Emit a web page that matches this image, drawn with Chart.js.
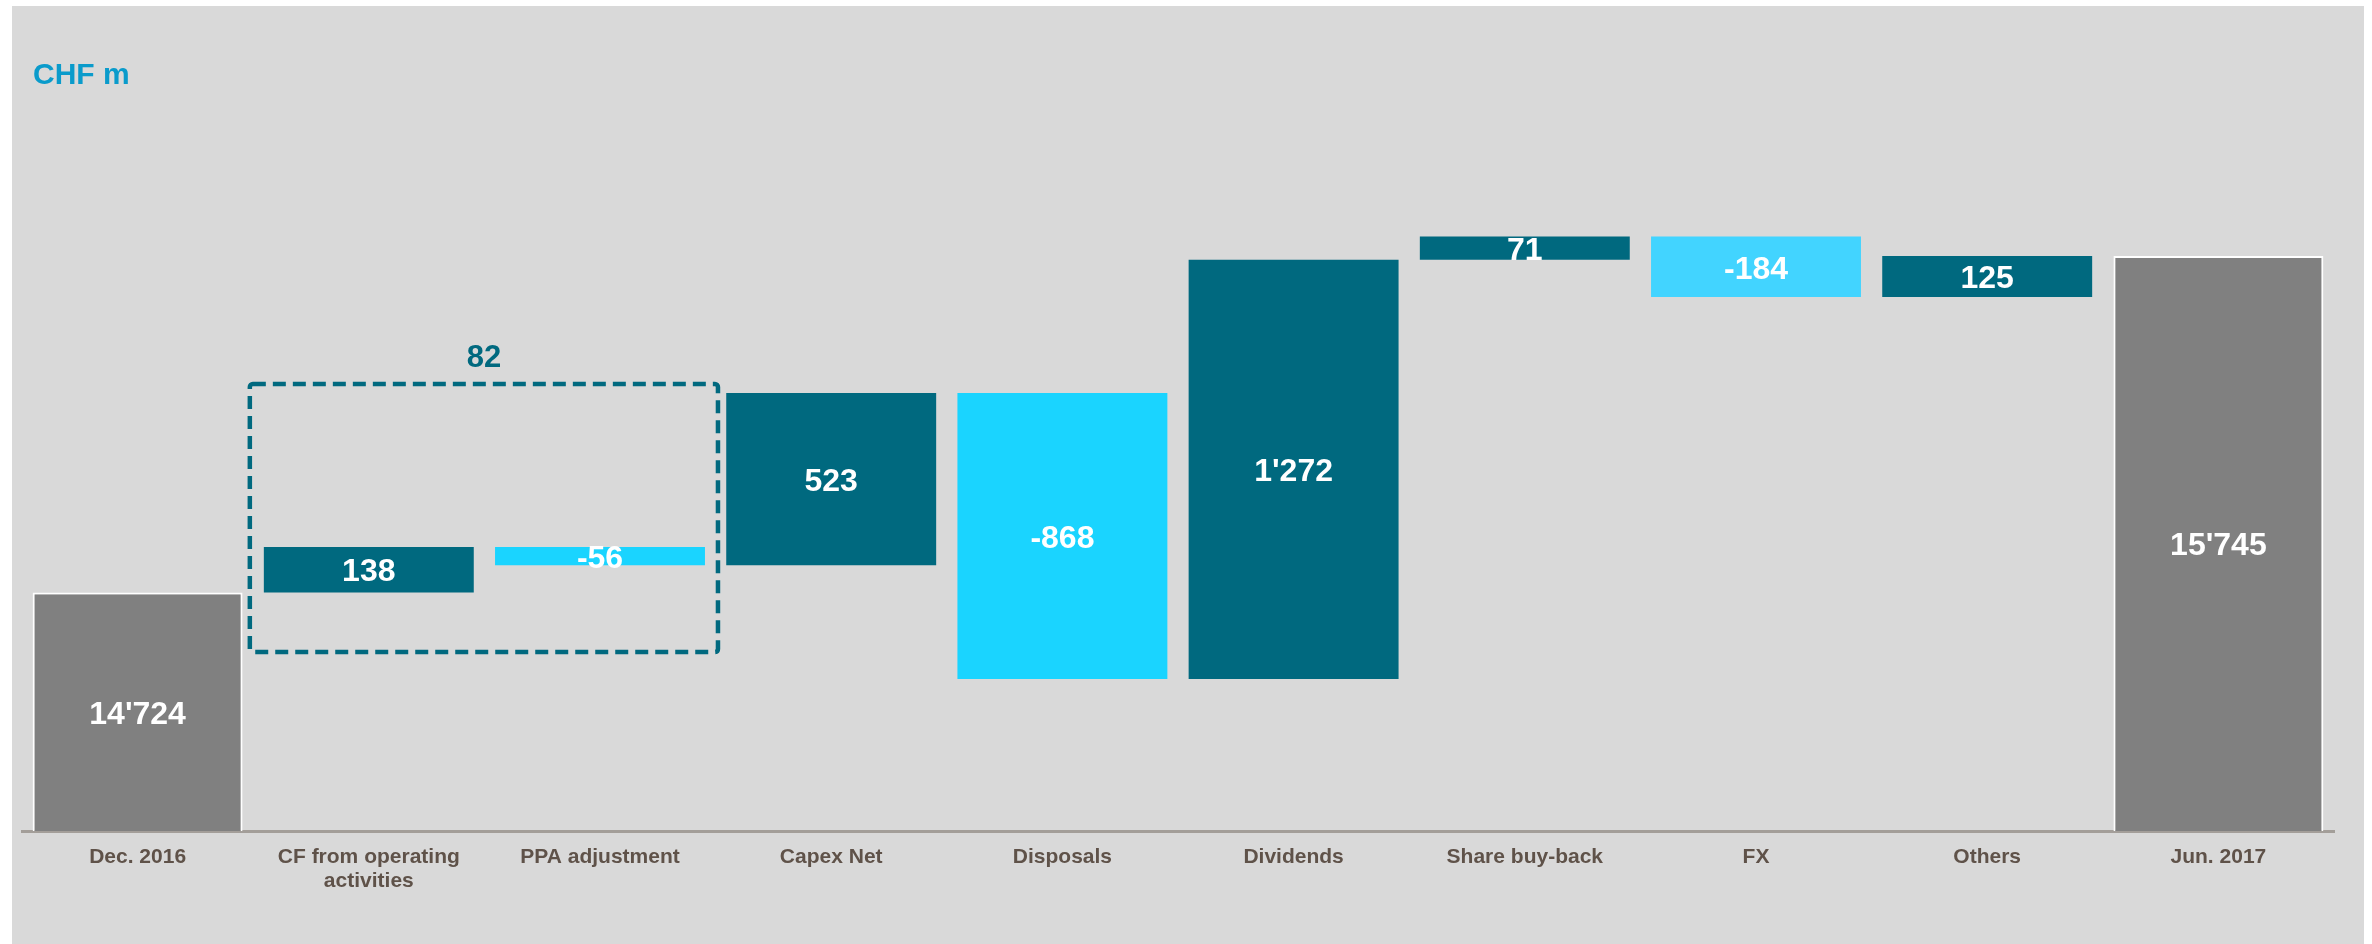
<!DOCTYPE html>
<html>
<head>
<meta charset="utf-8">
<script src="https://cdn.jsdelivr.net/npm/chart.js@4/dist/chart.umd.min.js"></script>
<style>
html,body{margin:0;padding:0;background:#ffffff;overflow:hidden}
canvas{display:block}
</style>
</head>
<body>
<canvas id="c" width="2372" height="944"></canvas>
<script>
// ---- data ----
const categories = ['Dec. 2016', ['CF from operating', 'activities'], 'PPA adjustment', 'Capex Net', 'Disposals', 'Dividends', 'Share buy-back', 'FX', 'Others', 'Jun. 2017'];
const startTotal = 14724;
const changes = [138, -56, 523, -868, 1272, 71, -184, 125];
const endTotal = 15745;
const groupedLabel = '82';          // CF from operating activities + PPA adjustment
const axisBase = 14000;             // broken axis start
const axisMax = 16400;
const groupBox = { from: 1, to: 2, low: 14543, high: 15356 };

// ---- styles ----
const barColors = ['#808080', '#00697F', '#1AD4FF', '#00697F', '#1AD4FF', '#00697F', '#00697F', '#42D4FF', '#00697F', '#808080'];
const FONT = '"Liberation Sans", Arial, Helvetica, sans-serif';

// ---- waterfall ranges built from the values ----
const values = [startTotal, ...changes, endTotal];
const ranges = [];
let run = startTotal;
ranges.push([axisBase, startTotal]);
changes.forEach(d => { ranges.push([run, run + d]); run += d; });
ranges.push([axisBase, endTotal]);

function fmt(v) {
  const s = Math.abs(v).toString().replace(/\B(?=(\d{3})+(?!\d))/g, "'");
  return (v < 0 ? '-' : '') + s;
}

const decor = {
  id: 'decor',
  beforeDraw(chart) {
    const ctx = chart.ctx;
    ctx.save();
    ctx.fillStyle = '#D9D9D9';
    ctx.fillRect(12, 6, 2352, 938);
    ctx.font = 'bold 30px ' + FONT;
    ctx.fillStyle = '#0A9BCB';
    ctx.textAlign = 'left';
    ctx.textBaseline = 'alphabetic';
    ctx.fillText('CHF m', 33, 84);
    ctx.restore();
  },
  afterDatasetsDraw(chart) {
    const ctx = chart.ctx;
    const meta = chart.getDatasetMeta(0);
    const ys = chart.scales.y;
    ctx.save();
    ctx.font = 'bold 32px ' + FONT;
    ctx.fillStyle = '#FFFFFF';
    ctx.textAlign = 'center';
    ctx.textBaseline = 'middle';
    meta.data.forEach((bar, i) => {
      ctx.fillText(fmt(values[i]), bar.x, (bar.y + bar.base) / 2 + 3);
    });
    // dashed group box
    const a = meta.data[groupBox.from], b = meta.data[groupBox.to];
    const left = a.x - a.width / 2 - 14;
    const right = b.x + b.width / 2 + 13;
    const top = ys.getPixelForValue(groupBox.high);
    const bottom = ys.getPixelForValue(groupBox.low);
    ctx.strokeStyle = '#00697F';
    ctx.lineWidth = 4.5;
    ctx.setLineDash([13, 7]);
    ctx.beginPath();
    if (ctx.roundRect) ctx.roundRect(left, top, right - left, bottom - top, 3);
    else ctx.rect(left, top, right - left, bottom - top);
    ctx.stroke();
    ctx.setLineDash([]);
    ctx.fillStyle = '#00697F';
    ctx.font = 'bold 31px ' + FONT;
    ctx.fillText(groupedLabel, (left + right) / 2, top - 26);
    ctx.restore();
  }
};

new Chart(document.getElementById('c'), {
  type: 'bar',
  data: {
    labels: categories,
    datasets: [{
      data: ranges,
      backgroundColor: barColors,
      borderColor: barColors.map((c, i) => (i === 0 || i === barColors.length - 1) ? '#FFFFFF' : c),
      borderWidth: barColors.map((c, i) => (i === 0 || i === barColors.length - 1) ? 2 : 0),
      borderSkipped: 'start',
      categoryPercentage: 1,
      barPercentage: 0.908
    }]
  },
  options: {
    responsive: false,
    animation: false,
    devicePixelRatio: 1,
    layout: { padding: { left: 22, right: 38, top: 40, bottom: 0 } },
    plugins: { legend: { display: false }, tooltip: { enabled: false }, title: { display: false } },
    scales: {
      x: {
        grid: { display: false, drawTicks: false },
        border: { display: true, color: '#A39E99', width: 3 },
        ticks: {
          color: '#5F5249',
          padding: 14,
          maxRotation: 0,
          autoSkip: false,
          font: { family: FONT, size: 21, weight: 'bold', lineHeight: 1.15 }
        },
        afterFit(scale) { scale.height = 113; }
      },
      y: {
        display: false,
        min: axisBase,
        max: axisMax
      }
    }
  },
  plugins: [decor]
});
</script>
</body>
</html>
